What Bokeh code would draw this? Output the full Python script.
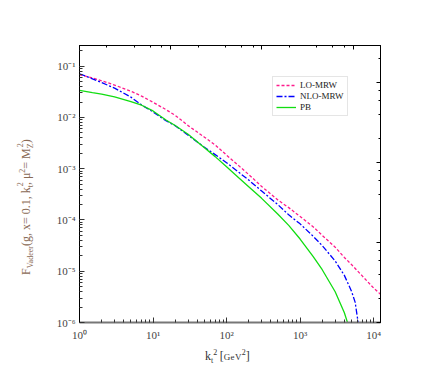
from bokeh.plotting import figure
from bokeh.models import (Range1d, LogScale, LogAxis, Legend, LegendItem, Div,
                          CustomJSTickFormatter, LogTicker)
from bokeh.layouts import row, column
from bokeh.embed import file_html
from bokeh.resources import INLINE

# ---------------- data ----------------
lo_k2 = [1, 1.5, 2, 3, 5, 7, 10, 15, 20, 30, 50, 70, 100, 150, 200, 300, 500, 700,
         1000, 1500, 2000, 3000, 4000, 5000, 7000, 10000, 12400]
lo_mrw = [0.068, 0.0588, 0.0519, 0.0428, 0.0325, 0.026, 0.0198, 0.0142, 0.0110, 0.00693,
          0.00412, 0.00291, 0.00184, 0.00111, 7.7e-4, 4.5e-4, 2.45e-4, 1.74e-4,
          1.17e-4, 7.4e-5, 5.0e-5, 2.95e-5, 1.86e-5, 1.35e-5, 8.1e-6, 4.7e-6, 3.55e-6]

nlo_k2 = [1, 1.5, 2, 3, 5, 7, 10, 15, 20, 30, 50, 70, 100, 150, 200, 300, 500, 700,
          1000, 1500, 2000, 3000, 4000, 5000, 5600, 6100, 6400]
nlo_mrw = [0.0711, 0.0565, 0.0479, 0.0373, 0.0249, 0.0175, 0.0128, 0.0086, 0.0069, 0.0045,
           0.00263, 0.00188, 0.00131, 8.3e-4, 6.0e-4, 3.67e-4, 1.98e-4, 1.26e-4,
           8.4e-5, 4.84e-5, 3.16e-5, 1.58e-5, 8.3e-6, 4.07e-6, 2.5e-6, 1.1e-6, 7e-7]

pb_k2 = [1, 1.5, 2, 3, 5, 7, 10, 15, 20, 30, 50, 70, 100, 150, 200, 300, 500, 700,
         1000, 1500, 2000, 3000, 4000, 4700]
pb = [0.0336, 0.0305, 0.0285, 0.0251, 0.0204, 0.0173, 0.0134, 0.0089, 0.00695, 0.0047,
      0.00255, 0.00172, 0.00109, 6.46e-4, 4.46e-4, 2.64e-4, 1.29e-4, 7.85e-5,
      4.25e-5, 1.95e-5, 1.07e-5, 3.98e-6, 1.55e-6, 7.5e-7]

series_names = ["LO-MRW", "NLO-MRW", "PB"]

# ---------------- layout geometry ----------------
YDIV_W = 40
FIG_W, FIG_H = 386, 345
XDIV_H = 26

p = figure(width=FIG_W, height=FIG_H, x_axis_type="log", y_axis_type="log",
           x_range=Range1d(1, 12400), y_range=Range1d(1e-6, 0.253),
           output_backend="svg", toolbar_location=None,
           min_border_left=79 - YDIV_W, min_border_right=YDIV_W + FIG_W - 380,
           min_border_top=45, min_border_bottom=FIG_H - 322, margin=0)
p.xgrid.visible = False
p.ygrid.visible = False
p.outline_line_color = "black"
p.outline_line_width = 1
p.background_fill_color = "white"
p.border_fill_color = "white"

fmt = CustomJSTickFormatter(code="""
const e = Math.round(Math.log10(tick));
const sup = {'-':'\u207b','0':'\u2070','1':'\u00b9','2':'\u00b2','3':'\u00b3','4':'\u2074','5':'\u2075','6':'\u2076','7':'\u2077','8':'\u2078','9':'\u2079'};
return '10' + String(e).split('').map(c => sup[c]).join('');
""")
blank = CustomJSTickFormatter(code="return '';")

for ax in (p.xaxis[0], p.yaxis[0]):
    ax.formatter = fmt
    ax.major_label_text_font = "Liberation Serif"
    ax.major_label_text_font_size = "11px"
    ax.major_label_text_color = "#444444"
    ax.major_tick_in = 5
    ax.major_tick_out = 0
    ax.minor_tick_in = 3
    ax.minor_tick_out = 0
    ax.major_tick_line_color = "#333333"
    ax.minor_tick_line_color = "#333333"
p.yaxis[0].axis_line_color = "black"
p.xaxis[0].axis_line_color = "#777777"
p.xaxis[0].axis_line_width = 2
p.xaxis[0].major_label_standoff = 6
p.yaxis[0].major_label_standoff = 4

# mirrored top / right axes (with their own scales, as in the reference)
p.extra_x_ranges = {"top": Range1d(1, 2000)}
p.extra_x_scales = {"top": LogScale()}
p.extra_y_ranges = {"right": Range1d(1e-6, 2.9e-3)}
p.extra_y_scales = {"right": LogScale()}
top_ax = LogAxis(x_range_name="top", ticker=LogTicker(), formatter=blank)
right_ax = LogAxis(y_range_name="right", ticker=LogTicker(), formatter=blank)
for ax in (top_ax, right_ax):
    ax.major_tick_in = 4
    ax.major_tick_out = 0
    ax.minor_tick_in = 2
    ax.minor_tick_out = 0
    ax.axis_line_color = "black"
    ax.major_label_text_font_size = "1px"
p.add_layout(top_ax, "above")
p.add_layout(right_ax, "right")

r_lo = p.line(lo_k2, lo_mrw, line_color="#ff1a8c", line_width=1.3, line_dash="3 2")
r_nlo = p.line(nlo_k2, nlo_mrw, line_color="#0000ff", line_width=1.3, line_dash="6 2 2 2")
r_pb = p.line(pb_k2, pb, line_color="#11dd11", line_width=1.3)

legend = Legend(items=[LegendItem(label=series_names[0], renderers=[r_lo]),
                       LegendItem(label=series_names[1], renderers=[r_nlo]),
                       LegendItem(label=series_names[2], renderers=[r_pb])],
                location=(193, 206))
legend.label_text_font = "Liberation Serif"
legend.label_text_font_size = "9px"
legend.label_text_color = "#222222"
legend.label_height = 8
legend.glyph_height = 8
legend.glyph_width = 20
legend.label_standoff = 4
legend.spacing = 1
legend.padding = 3
legend.margin = 0
legend.border_line_color = "#cccccc"
legend.border_line_width = 1
legend.background_fill_color = "white"
p.add_layout(legend, "center")

# ---------------- axis titles as HTML text (sub/superscripts) ----------------
def stack(sub, sup):
    return ('<span style="position:relative;display:inline-block;font-size:8px;line-height:8px;">'
            f'<span style="position:relative;top:3px;">{sub}</span>'
            f'<span style="position:absolute;left:1px;top:-7px;">{sup}</span></span>')

SUP = '<span style="position:relative;top:-5px;font-size:8px;line-height:8px;">{}</span>'
SUB = '<span style="position:relative;top:3px;font-size:8px;line-height:8px;">{}</span>'

y_title = ("F" + SUB.format("Vadeer") + "(g, x= 0.1, k" + stack("t", "2") + ", &mu;" +
           SUP.format("2") + "= M" + stack("Z", "2") + ")")
x_title = ("k" + SUB.format("t") + SUP.format("2") + "&thinsp;[" +
           '<span style="font-size:9px;letter-spacing:0.4px;">GeV</span>' +
           SUP.format("2") + "]")

ydiv = Div(width=YDIV_W, height=FIG_H + XDIV_H, margin=0, sizing_mode="fixed",
           styles={"overflow": "visible"},
           text=('<div style="position:absolute;left:19px;top:275px;transform-origin:0 0;'
                 'transform:rotate(-90deg);white-space:nowrap;font-family:\'Liberation Serif\';'
                 'font-size:12px;line-height:14px;color:#8a6a55;">' + y_title + '</div>'))
xdiv = Div(width=FIG_W, height=XDIV_H, margin=0, sizing_mode="fixed",
           styles={"overflow": "visible"},
           text=('<div style="position:absolute;left:165px;top:4px;white-space:nowrap;'
                 'font-family:\'Liberation Serif\';font-size:12px;line-height:14px;'
                 'color:#333333;">' + x_title + '</div>'))

layout = row(ydiv, column(p, xdiv, spacing=0, margin=0), spacing=0, margin=0)

open("out.html", "w").write(file_html(layout, INLINE))
